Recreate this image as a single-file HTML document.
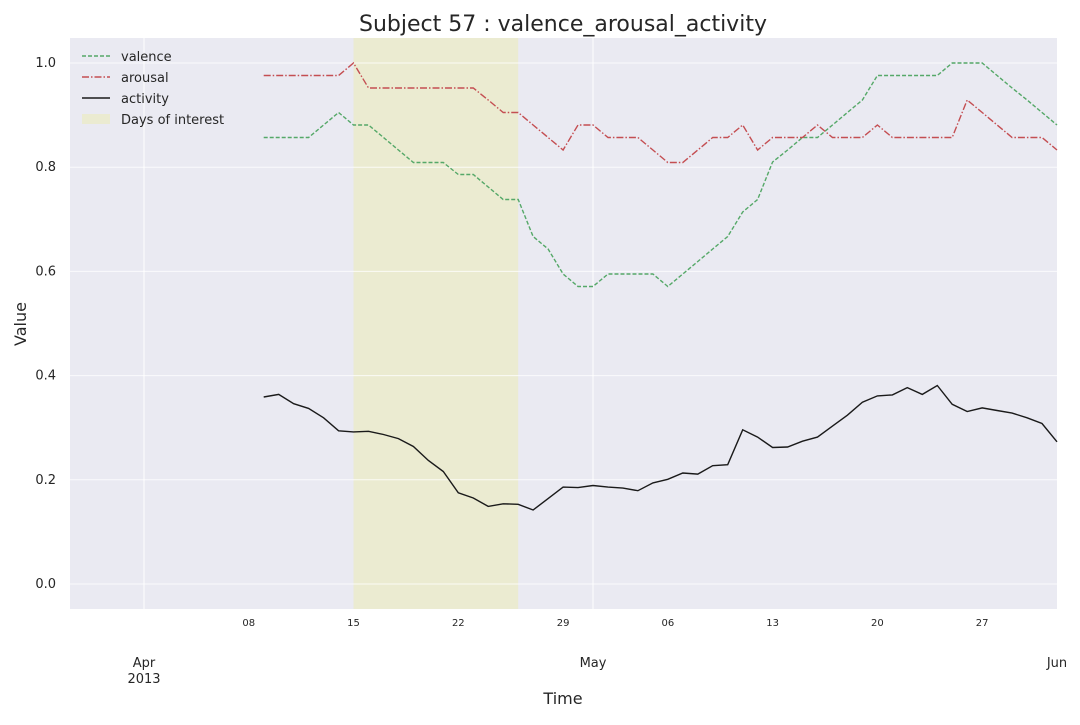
<!DOCTYPE html>
<html><head><meta charset="utf-8"><style>
body{margin:0;background:#fff;font-family:"Liberation Sans",sans-serif}
svg text{font-family:"DejaVu Sans","Liberation Sans",sans-serif;fill:#262626}
</style></head><body>
<svg id="c" width="1080" height="720"></svg>
<script>
const startDay = 8; // Apr 9 = day offset 8 from Apr 1
const valence = [.857,.857,.857,.857,.881,.905,.881,.881,.857,.833,.809,.809,.809,.786,.786,.762,.738,.738,.667,.643,.595,.571,.571,.595,.595,.595,.595,
.571,.595,.619,.643,.667,.714,.738,.810,.833,.857,.857,.881,.905,.929,.976,.976,.976,.976,.976,1.0,1.0,1.0,.976,.952,.929,.905,.881];
const arousal = [.976,.976,.976,.976,.976,.976,1.0,.952,.952,.952,.952,.952,.952,.952,.952,.929,.905,.905,.881,.857,.833,.881,.881,.857,.857,.857,.833,
.809,.809,.833,.857,.857,.881,.833,.857,.857,.857,.881,.857,.857,.857,.881,.857,.857,.857,.857,.857,.929,.905,.881,.857,.857,.857,.833];
const activity = [.359,.364,.346,.337,.319,.294,.292,.293,.287,.279,.264,.237,.216,.175,.165,.149,.154,.153,.142,.164,.186,.185,.189,.186,.184,.179,.194,
.201,.213,.211,.227,.229,.296,.282,.262,.263,.274,.282,.303,.324,.349,.361,.363,.377,.364,.381,.345,.331,.338,.333,.328,.319,.308,.273];
const yTicks = [0.0,0.2,0.4,0.6,0.8,1.0];
const minorTicks = [[7,"08"],[14,"15"],[21,"22"],[28,"29"],[35,"06"],[42,"13"],[49,"20"],[56,"27"]];
const majorTicks = [[0,"Apr","2013"],[30,"May",""],[61,"Jun",""]];
const interest = [14,25];

const NS="http://www.w3.org/2000/svg", svg=document.getElementById('c');
const L=70,R=1057,T=38,B=609;
const X=d=>144+d*14.967, Y=v=>584-v*521;
function el(t,a,p){const e=document.createElementNS(NS,t);for(const k in a)e.setAttribute(k,a[k]);(p||svg).appendChild(e);return e;}
let bg=el('rect',{x:L,y:T,width:R-L,height:B-T,fill:'#eaeaf2'});


let sh=el('rect',{x:X(interest[0]),y:T,width:X(interest[1])-X(interest[0]),height:B-T,fill:'#ebebd1'});


yTicks.forEach(v=>{
  let g=el('line',{x1:L,x2:R,y1:Y(v),y2:Y(v),stroke:'#fff','stroke-width':1,opacity:0.8});
  
  
  let t=el('text',{x:56,y:Y(v)+4,'text-anchor':'end','font-size':13});t.textContent=v.toFixed(1);
  
  
});
majorTicks.forEach(m=>{
  if(X(m[0])<R-1){let g=el('line',{x1:X(m[0]),x2:X(m[0]),y1:T,y2:B,stroke:'#fff','stroke-width':1});
  
  }
  let t=el('text',{x:X(m[0]),y:667,'text-anchor':'middle','font-size':13});t.textContent=m[1];
  
  
  if(m[2]){let t2=el('text',{x:X(m[0]),y:683,'text-anchor':'middle','font-size':13});t2.textContent=m[2];
  
  }
});
minorTicks.forEach(m=>{
  let t=el('text',{x:X(m[0]),y:626,'text-anchor':'middle','font-size':10});t.textContent=m[1];
  
  
});
function line(arr,color,dash,name){
  const pts=arr.map((v,i)=>X(startDay+i).toFixed(1)+','+Y(v).toFixed(1)).join(' ');
  let p=el('polyline',{points:pts,fill:'none',stroke:color,'stroke-width':1.4,'stroke-dasharray':dash});
  
  
}
line(valence,'#55a868','4 2','valence-line');
line(arousal,'#c44e52','7 2 1.5 2','arousal-line');
line(activity,'#1a1a1a','none','activity-line');
const lg=el('g',{});


const items=[['valence','#55a868','4 2'],['arousal','#c44e52','7 2 1.5 2'],['activity','#1a1a1a','none'],['Days of interest','','']];
items.forEach((it,i)=>{
  const y=56+i*21;
  if(it[1]){let l=el('line',{x1:82,x2:110,y1:y,y2:y,stroke:it[1],'stroke-width':1.4,'stroke-dasharray':it[2]},lg);
  
  }
  else{let r=el('rect',{x:82,y:y-5,width:28,height:10,fill:'#ebebd1'},lg);
  
  }
  let t=el('text',{x:121,y:y+5,'font-size':13},lg);t.textContent=it[0];
  
  
});
let ti=el('text',{x:563,y:31,'text-anchor':'middle','font-size':22});ti.textContent='Subject 57 : valence_arousal_activity';


let xl=el('text',{x:563,y:704,'text-anchor':'middle','font-size':16});xl.textContent='Time';


let yl=el('text',{x:0,y:0,'text-anchor':'middle','font-size':16,transform:'translate(26,324) rotate(-90)'});yl.textContent='Value';


</script>
</body></html>
